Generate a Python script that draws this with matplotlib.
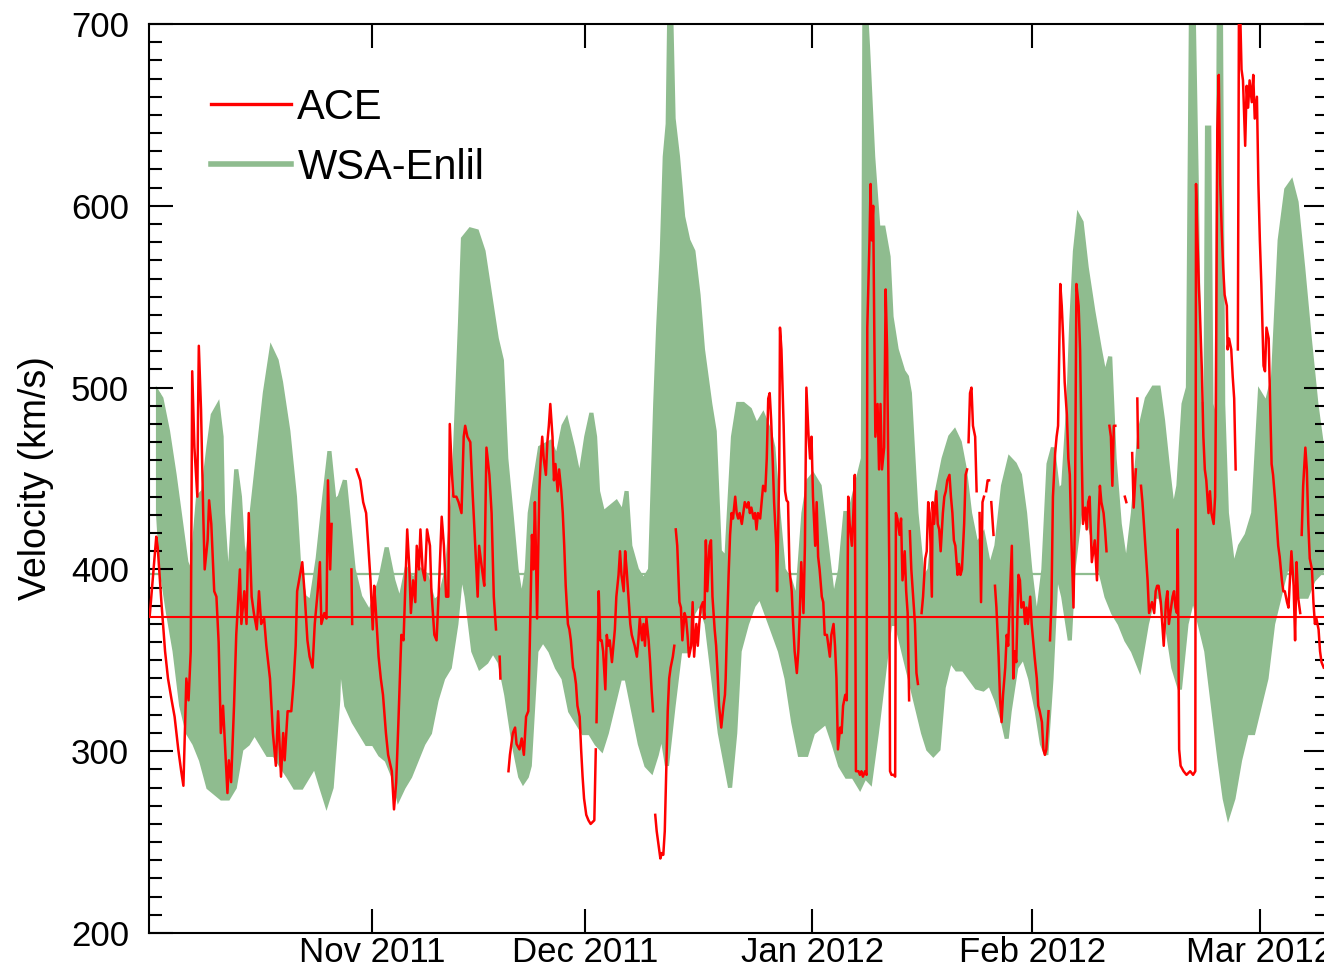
import numpy as np
import matplotlib
matplotlib.use("Agg")
import matplotlib.pyplot as plt
from matplotlib.lines import Line2D
from matplotlib.ticker import MultipleLocator

nan = np.nan

# ACE solar wind speed (km/s) vs days after 2011-10-01, nan = data gap
ace_obs = [
    (0.7, 374), (1.6, 418), (1.8, 412), (2.3, 382), (2.8, 355), (3.2, 340), (3.7, 328), (4.1, 319),
    (4.6, 301), (5.0, 289), (5.3, 281), (5.7, 340), (6.0, 328), (6.3, 355), (6.5, 509), (6.8, 467),
    (7.2, 440), (7.3, 488), (7.4, 523), (7.7, 488), (8.0, 431), (8.2, 400), (8.6, 416), (8.8, 438),
    (9.1, 425), (9.5, 388), (9.8, 385), (10.1, 360), (10.4, 310), (10.7, 325), (11.0, 301), (11.3, 277),
    (11.5, 295), (11.8, 283), (12.2, 325), (12.5, 364), (13.0, 400), (13.2, 370), (13.6, 388), (13.9, 370),
    (14.2, 431), (14.6, 385), (14.9, 376), (15.3, 367), (15.6, 388), (15.9, 370), (16.3, 373), (16.6, 358),
    (17.1, 340), (17.5, 310), (17.9, 292), (18.2, 322), (18.6, 286), (18.9, 310), (19.1, 295), (19.5, 322),
    (20.0, 322), (20.3, 337), (20.6, 358), (20.8, 388), (21.2, 397), (21.5, 404), (21.8, 388), (22.2, 361),
    (22.5, 352), (22.9, 346), (23.2, 370), (23.6, 388), (23.9, 404), (24.1, 370), (24.5, 376), (24.8, 373),
    (25.0, 449), (25.3, 400), (25.5, 425), (nan, nan),
    (28.2, 400), (28.3, 370), (nan, nan),
    (28.9, 455), (29.4, 449), (29.8, 437), (30.2, 431), (30.5, 413), (30.8, 394), (31.1, 367), (31.3, 391),
    (31.5, 379), (31.9, 352), (32.2, 340), (32.5, 331), (32.9, 310), (33.2, 298), (33.7, 289), (34.0, 268),
    (34.3, 283), (34.6, 316), (35.0, 364), (35.3, 361), (35.5, 385), (35.8, 422), (36.1, 400), (36.3, 376),
    (36.6, 394), (36.9, 382), (37.1, 413), (37.4, 400), (37.6, 422), (37.9, 400), (38.2, 394), (38.5, 422),
    (38.9, 413), (39.1, 388), (39.5, 364), (39.8, 361), (40.1, 388), (40.5, 429), (40.8, 413), (41.1, 385),
    (41.4, 385), (41.6, 480), (41.9, 452), (42.1, 440), (42.5, 440), (42.8, 437), (43.2, 431), (43.5, 473),
    (43.7, 479), (44.0, 473), (44.4, 470), (44.7, 443), (45.0, 419), (45.4, 385), (45.6, 413), (46.0, 400),
    (46.3, 391), (46.6, 467), (47.0, 452), (47.3, 431), (47.6, 385), (47.9, 367), (nan, nan),
    (48.4, 352), (48.5, 340), (nan, nan),
    (49.6, 289), (49.8, 298), (50.2, 310), (50.5, 313), (50.7, 304), (51.1, 301), (51.4, 307), (51.7, 298),
    (52.0, 319), (52.3, 322), (52.5, 358), (52.8, 419), (53.0, 400), (53.2, 437), (53.3, 419), (53.5, 373),
    (53.8, 443), (54.0, 461), (54.2, 473), (54.4, 461), (54.7, 452), (54.9, 470), (55.1, 479), (55.3, 491),
    (55.6, 473), (55.8, 449), (56.0, 458), (56.3, 443), (56.5, 455), (56.8, 443), (57.0, 431), (57.2, 413),
    (57.4, 391), (57.7, 370), (57.9, 367), (58.1, 361), (58.4, 346), (58.6, 343), (58.8, 337), (59.0, 325),
    (59.3, 319), (59.5, 301), (59.7, 286), (59.9, 274), (60.2, 265), (60.5, 262), (60.8, 260), (61.3, 262),
    (61.5, 301), (nan, nan),
    (61.6, 316), (61.9, 388), (62.1, 361), (62.3, 361), (62.5, 355), (62.8, 334), (63.0, 364), (63.2, 358),
    (63.4, 361), (63.7, 349), (63.9, 358), (64.1, 367), (64.3, 385), (64.6, 397), (64.8, 410), (65.0, 397),
    (65.3, 388), (65.5, 410), (65.7, 400), (65.9, 388), (66.2, 370), (66.4, 364), (66.6, 361), (66.8, 358),
    (67.1, 352), (67.3, 361), (67.5, 373), (67.8, 361), (68.0, 370), (68.2, 358), (68.4, 373), (68.7, 361),
    (68.9, 349), (69.1, 334), (69.3, 322), (nan, nan),
    (69.6, 265), (69.8, 256), (70.0, 250), (70.3, 241), (70.5, 244), (70.7, 243), (70.9, 256), (71.1, 289),
    (71.3, 322), (71.5, 340), (71.7, 346), (72.0, 352), (72.2, 358), (nan, nan),
    (72.4, 422), (72.6, 413), (72.9, 382), (73.1, 379), (73.3, 361), (73.6, 376), (73.8, 373), (74.0, 364),
    (74.2, 352), (74.5, 358), (74.7, 382), (74.9, 352), (75.2, 370), (75.4, 358), (75.6, 370), (75.8, 379),
    (76.1, 382), (76.3, 373), (76.5, 416), (76.7, 388), (77.0, 413), (77.2, 416), (77.4, 385), (77.7, 367),
    (77.9, 358), (78.1, 343), (78.3, 325), (78.6, 313), (78.9, 325), (79.1, 331), (79.2, 340), (79.4, 370),
    (79.6, 397), (79.8, 419), (80.0, 431), (80.2, 428), (80.5, 440), (80.7, 431), (80.9, 428), (81.1, 431),
    (81.4, 425), (81.6, 431), (81.8, 437), (82.1, 434), (82.3, 437), (82.5, 431), (82.7, 434), (83.0, 428),
    (83.2, 431), (83.4, 422), (83.6, 431), (83.9, 428), (84.1, 437), (84.3, 446), (84.6, 443), (84.8, 461),
    (85.0, 494), (85.2, 497), (85.4, 482), (85.6, 461), (85.8, 437), (86.1, 413), (86.2, 388), (86.5, 455),
    (86.6, 533), (86.8, 521), (87.1, 479), (87.3, 443), (87.5, 438), (87.7, 437), (87.9, 400), (88.2, 388),
    (88.4, 370), (88.6, 355), (88.9, 343), (89.1, 355), (89.3, 376), (89.5, 404), (89.8, 376), (90.0, 413),
    (90.2, 500), (90.5, 473), (90.7, 461), (90.9, 473), (91.1, 440), (91.4, 413), (91.6, 437), (91.8, 407),
    (92.0, 400), (92.3, 385), (92.5, 382), (92.7, 364), (93.0, 364), (93.2, 358), (93.4, 352), (93.6, 364),
    (93.9, 370), (94.1, 358), (94.3, 340), (94.5, 301), (94.8, 313), (95.0, 310), (95.2, 325), (95.5, 331),
    (95.7, 328), (95.9, 440), (96.1, 425), (96.4, 413), (96.6, 431), (96.8, 452), (96.95, 289), (97.3, 289),
    (97.5, 287), (97.7, 289), (97.9, 286), (98.2, 289), (98.4, 287), (98.5, 533), (98.8, 581), (98.95, 612),
    (99.1, 581), (99.3, 600), (99.45, 533), (99.6, 473), (99.9, 491), (100.1, 455), (100.3, 491), (100.5, 455),
    (100.8, 467), (101.0, 554), (101.2, 521), (101.5, 400), (101.6, 289), (101.8, 287), (102.1, 287), (102.3, 286),
    (102.4, 431), (102.6, 428), (102.9, 419), (103.1, 428), (103.3, 394), (103.6, 410), (103.8, 388), (104.0, 376),
    (104.2, 328), (nan, nan),
    (104.3, 421), (104.5, 400), (104.8, 382), (105.0, 370), (105.2, 343), (105.4, 337), (nan, nan),
    (105.9, 376), (106.1, 385), (106.4, 406), (106.6, 410), (106.8, 437), (107.0, 431), (107.3, 385), (107.4, 437),
    (107.6, 425), (107.9, 443), (108.1, 425), (108.3, 422), (108.5, 410), (108.8, 431), (109.0, 440), (109.2, 443),
    (109.4, 449), (109.7, 452), (109.9, 440), (110.1, 431), (110.3, 416), (110.5, 413), (110.8, 397), (111.0, 403),
    (111.2, 397), (111.4, 400), (111.7, 425), (111.9, 452), (112.1, 455), (nan, nan),
    (112.3, 470), (112.5, 497), (112.7, 500), (112.9, 479), (113.2, 473), (113.4, 443), (nan, nan),
    (113.8, 431), (114.0, 382), (114.2, 437), (114.4, 440), (nan, nan),
    (114.7, 443), (114.9, 449), (115.1, 449), (nan, nan),
    (115.4, 437), (115.7, 419), (nan, nan),
    (115.9, 391), (116.1, 379), (116.4, 352), (116.6, 328), (116.8, 316), (117.0, 331), (117.3, 346), (117.5, 364),
    (117.7, 358), (117.9, 382), (118.2, 413), (118.4, 340), (118.6, 355), (118.8, 349), (119.1, 397), (119.3, 394),
    (119.5, 379), (119.8, 382), (120.0, 370), (120.2, 379), (120.4, 370), (120.7, 385), (120.9, 370), (121.1, 361),
    (121.3, 352), (121.6, 340), (121.8, 325), (122.0, 322), (122.3, 316), (122.5, 301), (122.7, 298), (122.9, 301),
    (123.2, 322), (nan, nan),
    (123.4, 361), (123.6, 382), (123.8, 440), (124.1, 464), (124.3, 473), (124.5, 479), (124.8, 557), (125.0, 545),
    (125.2, 527), (125.4, 503), (125.7, 485), (125.9, 461), (126.1, 452), (126.3, 419), (126.6, 379), (126.8, 431),
    (127.0, 557), (127.3, 545), (127.5, 521), (127.7, 467), (127.9, 425), (128.2, 434), (128.4, 422), (128.6, 437),
    (128.8, 440), (129.1, 404), (129.3, 410), (129.5, 416), (129.8, 394), (130.0, 425), (130.2, 446), (130.4, 437),
    (130.7, 431), (130.9, 422), (131.1, 410), (nan, nan),
    (131.5, 479), (131.7, 473), (131.9, 446), (132.1, 479), (132.3, 479), (nan, nan),
    (133.6, 440), (133.8, 437), (nan, nan),
    (134.6, 464), (134.8, 434), (135.1, 455), (nan, nan),
    (135.3, 494), (135.4, 467), (nan, nan),
    (135.8, 446), (136.0, 437), (136.2, 425), (136.5, 406), (136.7, 394), (136.9, 376), (137.1, 379), (137.3, 382),
    (137.6, 376), (137.8, 388), (138.0, 391), (138.2, 391), (138.5, 382), (138.7, 370), (138.9, 358), (139.2, 382),
    (139.4, 388), (139.6, 370), (139.8, 376), (140.1, 385), (140.3, 388), (140.5, 379), (140.7, 376), (140.8, 422),
    (141.0, 301), (141.2, 292), (141.6, 289), (142.0, 287), (142.5, 289), (142.9, 287), (143.2, 289), (143.3, 612),
    (143.5, 581), (143.7, 554), (143.8, 545), (144.1, 509), (144.3, 473), (144.5, 455), (144.7, 449), (145.0, 431),
    (145.2, 443), (145.4, 431), (145.7, 425), (145.9, 440), (146.0, 485), (146.2, 642), (146.4, 672), (146.6, 612),
    (146.8, 587), (147.0, 566), (147.2, 551), (147.5, 545), (147.6, 521), (147.8, 527), (148.1, 521), (148.3, 506),
    (148.5, 494), (148.7, 455), (nan, nan),
    (149.0, 521), (149.15, 710), (149.3, 710), (149.5, 675), (149.7, 669), (150.0, 633), (150.2, 666), (150.4, 654),
    (150.6, 669), (150.9, 657), (151.1, 672), (151.3, 648), (151.6, 660), (151.8, 612), (152.0, 581), (152.2, 557),
    (152.5, 512), (152.7, 509), (152.9, 533), (153.2, 527), (153.4, 491), (153.6, 458), (153.8, 452), (154.1, 437),
    (154.3, 425), (154.5, 413), (154.7, 407), (155.0, 394), (155.2, 388), (155.4, 388), (155.7, 382), (155.9, 379),
    (156.1, 394), (156.3, 410), (156.6, 391), (156.8, 361), (157.0, 404), (157.2, 385), (157.5, 376), (nan, nan),
    (157.7, 419), (157.9, 446), (158.2, 467), (158.4, 455), (158.6, 425), (158.8, 406), (159.1, 400), (159.3, 382),
    (159.5, 370), (159.7, 373), (160.0, 367), (160.2, 355), (160.4, 349), (160.7, 346),
]

# WSA-Enlil ensemble: upper edge of the member bundle (km/s)
enlil_upper = [
    (1.84, 497), (2.3, 494), (3.2, 476), (4.1, 452), (5.0, 425), (5.7, 404), (6.4, 397), (7.3, 440),
    (8.0, 443), (8.7, 467), (9.3, 485), (10.0, 490), (10.5, 473), (10.7, 431), (11.2, 400), (11.6, 397),
    (12.1, 431), (12.5, 455), (13.0, 440), (13.4, 413), (13.9, 400), (14.6, 431), (15.5, 464), (16.4, 497),
    (17.3, 521), (18.0, 515), (18.6, 503), (19.6, 476), (20.5, 440), (21.1, 400), (21.8, 385), (22.7, 382),
    (23.6, 406), (24.5, 440), (25.2, 465), (25.9, 437), (26.6, 440), (27.3, 449), (28.5, 400), (29.4, 385),
    (30.7, 376), (32.1, 394), (33.0, 412), (33.9, 394), (34.8, 382), (35.7, 400), (36.6, 394), (37.5, 400),
    (38.4, 397), (39.4, 382), (40.3, 385), (41.2, 400), (42.1, 443), (43.0, 536), (43.4, 582), (44.4, 587),
    (45.3, 586), (46.2, 575), (47.1, 551), (48.0, 527), (48.7, 515), (49.3, 461), (50.0, 431), (50.7, 400),
    (51.4, 382), (52.1, 400), (52.5, 431), (53.9, 467), (55.3, 470), (56.2, 461), (57.1, 479), (57.5, 482),
    (58.4, 467), (59.3, 449), (60.2, 473), (60.9, 486), (61.4, 473), (61.8, 443), (62.5, 431), (63.4, 434),
    (64.3, 437), (65.2, 431), (65.7, 443), (66.2, 413), (67.1, 400), (68.0, 394), (68.9, 400), (69.6, 491),
    (70.0, 533), (70.5, 575), (70.9, 627), (71.3, 645), (71.5, 702), (71.8, 702), (72.1, 648), (72.7, 627),
    (73.4, 594), (74.1, 581), (74.8, 575), (75.5, 551), (76.1, 521), (77.1, 491), (77.7, 476), (78.4, 410),
    (79.3, 406), (80.2, 473), (80.9, 491), (81.6, 491), (82.5, 488), (83.4, 479), (84.3, 485), (85.2, 476),
    (85.7, 467), (86.4, 431), (87.1, 400), (88.0, 394), (88.9, 382), (89.8, 431), (90.5, 449), (91.1, 452),
    (92.0, 446), (92.9, 416), (93.9, 382), (94.8, 400), (95.5, 431), (96.1, 431), (97.0, 446), (97.9, 461),
    (98.1, 702), (98.4, 702), (98.6, 687), (99.3, 627), (100.0, 588), (100.7, 588), (101.4, 572), (101.8, 539),
    (102.5, 521), (103.4, 509), (103.9, 506), (104.3, 497), (105.2, 431), (106.1, 394), (107.0, 400), (108.0, 443),
    (108.9, 461), (109.8, 473), (110.4, 476), (111.1, 470), (111.8, 455), (112.5, 431), (113.4, 413), (114.3, 419),
    (115.2, 400), (116.1, 413), (117.0, 446), (117.9, 461), (118.6, 458), (119.3, 452), (120.0, 431), (120.7, 400),
    (121.6, 370), (122.5, 400), (123.2, 458), (123.8, 467), (124.5, 443), (125.2, 446), (125.9, 491), (126.3, 536),
    (126.8, 575), (127.3, 594), (127.7, 591), (128.4, 566), (129.3, 542), (130.2, 521), (130.9, 506), (131.6, 517),
    (132.2, 461), (132.9, 425), (133.8, 400), (134.7, 431), (135.6, 476), (136.6, 494), (137.5, 500), (138.2, 500),
    (138.8, 482), (139.5, 455), (140.2, 431), (140.9, 446), (141.6, 491), (142.2, 500), (142.6, 702), (143.0, 702),
    (143.4, 612), (143.8, 491), (144.6, 491), (144.8, 643), (145.1, 643), (145.4, 491), (146.1, 476), (146.4, 702),
    (146.7, 702), (147.0, 491), (147.5, 431), (148.4, 400), (149.3, 413), (150.2, 419), (151.1, 431), (152.0, 497),
    (152.9, 491), (153.8, 506), (154.7, 581), (155.6, 609), (156.3, 613), (157.0, 602), (157.9, 566), (158.8, 527),
    (159.7, 491), (160.7, 461),
]

# WSA-Enlil ensemble: lower edge of the member bundle (km/s)
enlil_lower = [
    (1.84, 431), (2.3, 400), (3.2, 376), (4.1, 355), (5.0, 325), (5.9, 310), (6.8, 304), (7.7, 295),
    (8.7, 280), (9.6, 277), (10.5, 274), (11.4, 274), (12.3, 280), (13.2, 301), (14.1, 304), (15.0, 310),
    (15.9, 304), (16.8, 298), (17.7, 298), (18.6, 292), (19.6, 286), (20.5, 280), (21.4, 280), (22.3, 286),
    (23.2, 292), (24.1, 280), (24.8, 271), (25.5, 280), (26.4, 328), (26.6, 355), (27.5, 325), (28.5, 316),
    (29.4, 310), (30.3, 304), (31.2, 304), (32.1, 298), (33.0, 295), (33.9, 286), (34.6, 274), (35.3, 280),
    (36.2, 286), (37.1, 295), (38.0, 304), (38.9, 310), (39.8, 328), (40.7, 340), (41.6, 346), (42.5, 370),
    (43.2, 400), (43.9, 385), (44.8, 355), (45.7, 346), (46.6, 349), (47.5, 355), (48.4, 349), (49.3, 331),
    (50.3, 304), (51.2, 286), (51.6, 283), (52.1, 286), (52.5, 292), (53.4, 355), (54.3, 361), (55.3, 355),
    (56.2, 346), (57.1, 340), (58.0, 322), (58.9, 316), (59.8, 310), (60.7, 310), (61.6, 304), (62.3, 301),
    (63.0, 310), (63.9, 325), (64.8, 340), (65.7, 340), (66.6, 322), (67.5, 304), (68.4, 292), (69.1, 289),
    (69.8, 298), (70.5, 310), (71.2, 292), (72.1, 325), (73.0, 355), (73.9, 355), (74.8, 376), (75.7, 382),
    (76.6, 370), (77.5, 340), (78.4, 310), (79.1, 295), (79.8, 280), (80.5, 310), (81.1, 355), (82.1, 370),
    (83.0, 380), (83.9, 385), (84.8, 375), (85.7, 365), (86.6, 355), (87.5, 340), (88.4, 316), (89.3, 298),
    (90.2, 298), (91.1, 310), (92.0, 313), (92.9, 316), (93.9, 304), (94.8, 292), (95.7, 286), (96.6, 286),
    (97.5, 280), (98.2, 286), (98.9, 283), (99.8, 310), (100.7, 340), (101.6, 370), (102.5, 370), (103.4, 355),
    (104.3, 340), (105.2, 325), (106.1, 310), (106.8, 301), (107.5, 298), (108.2, 301), (108.9, 335),
    (109.8, 350), (110.7, 345), (111.6, 345), (112.5, 340), (113.4, 335), (114.3, 334), (115.2, 337),
    (116.1, 328), (117.0, 316), (117.5, 307), (117.9, 322), (118.8, 346), (119.8, 352), (120.7, 340), (121.6, 322),
    (122.3, 304), (122.9, 298), (123.6, 340), (124.3, 400), (125.2, 385), (126.1, 361), (126.6, 400), (127.5, 431),
    (128.4, 431), (129.3, 416), (130.2, 400), (131.1, 385), (132.0, 376), (132.9, 370), (133.8, 361), (134.7, 355),
    (135.6, 346), (136.6, 370), (137.5, 385), (138.4, 385), (139.3, 370), (140.2, 346), (141.1, 334), (142.0, 370),
    (142.9, 385), (143.8, 370), (144.7, 355), (145.6, 325), (146.5, 295), (147.2, 274), (147.7, 265), (148.4, 274),
    (149.3, 295), (150.2, 310), (151.1, 310), (152.0, 325), (152.9, 340), (153.8, 370), (154.7, 385), (155.6, 400),
    (156.5, 400), (157.4, 385), (158.4, 385), (159.3, 394), (160.7, 400),
]

ace_mean = 374
enlil_mean = 397.5

tick_days = [31, 60, 91, 121, 152]
tick_labels = ["Nov 2011", "Dec 2011", "Jan 2012", "Feb 2012", "Mar 2012"]

GREEN = "#8fbc8f"
RED = "#ff0000"

plt.rcParams["font.family"] = ["Liberation Sans", "DejaVu Sans"]

ace = np.array(ace_obs, dtype=float)
up = np.array(enlil_upper, dtype=float)
lo = np.array(enlil_lower, dtype=float)

fig = plt.figure(figsize=(13.24, 9.72), dpi=100)
ax = fig.add_axes([0.1122, 0.0401, 0.8909, 0.9352])

# ensemble spread drawn as one band between its edges
band_x = np.concatenate([up[:, 0], lo[::-1, 0]])
band_y = np.concatenate([up[:, 1], lo[::-1, 1]])
ax.fill(band_x, band_y, color=GREEN, lw=3, zorder=1)
ax.axhline(enlil_mean, color=GREEN, lw=1.6, zorder=2)

ax.plot(ace[:, 0], ace[:, 1], color=RED, lw=1.8, zorder=3)
ax.axhline(ace_mean, color=RED, lw=1.5, zorder=4)

ax.set_xlim(0.55, 161.3)
ax.set_ylim(200, 700)
ax.set_yticks(range(200, 701, 100))
ax.yaxis.set_minor_locator(MultipleLocator(10))
ax.set_xticks(tick_days, tick_labels)

ax.tick_params(which="both", direction="in", top=True, right=True, width=1.5, colors="black")
ax.tick_params(which="major", length=17, labelsize=25)
ax.tick_params(which="minor", length=9.5)
ax.tick_params(axis="y", pad=14)
ax.tick_params(axis="x", pad=2)
for sp in ax.spines.values():
    sp.set_linewidth(1.5)

ax.set_ylabel("Velocity (km/s)", fontsize=27, labelpad=12)

handles = [Line2D([], [], color=RED, lw=2.4), Line2D([], [], color=GREEN, lw=4)]
ax.legend(handles, ["ACE", "WSA-Enlil"], loc="upper left", bbox_to_anchor=(0.053, 0.930),
          frameon=False, fontsize=30, handlelength=1.92, handletextpad=0.15,
          labelspacing=0.49, borderpad=0, borderaxespad=0)

fig.savefig("out.png", dpi=100)
